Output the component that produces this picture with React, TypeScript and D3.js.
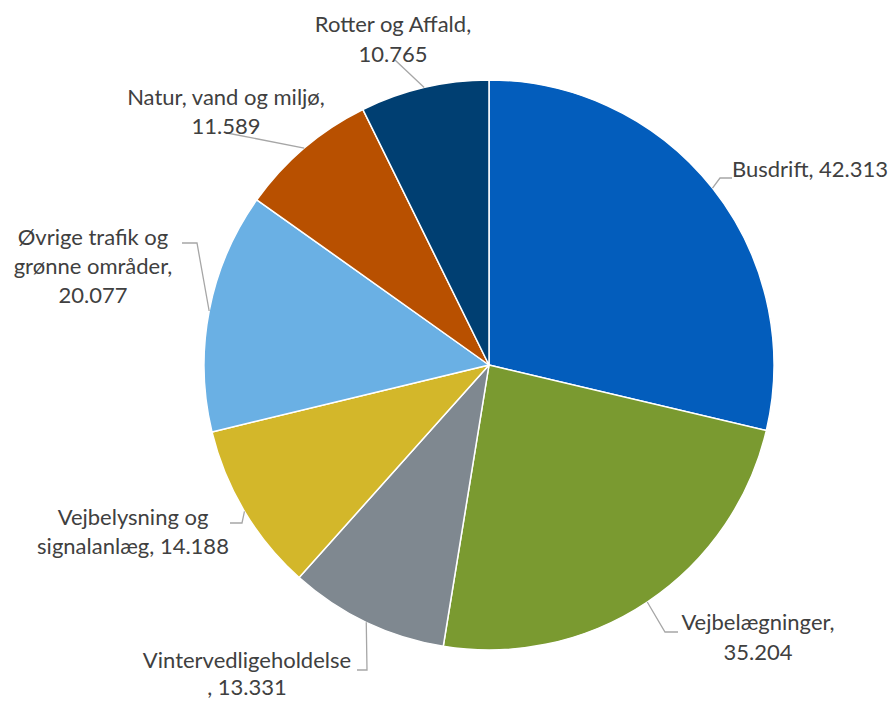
import React from "react";
import * as d3 from "d3";

const categories = [
  "Busdrift",
  "Vejbelægninger",
  "Vintervedligeholdelse",
  "Vejbelysning og signalanlæg",
  "Øvrige trafik og grønne områder",
  "Natur, vand og miljø",
  "Rotter og Affald",
];
const values = [42.313, 35.204, 13.331, 14.188, 20.077, 11.589, 10.765];
const colors = ["#035DBC", "#7A9A30", "#7F8890", "#D3B72A", "#6AB0E4", "#B85000", "#003F72"];

// Label text lines (as wrapped in the original)
const labelLines = [
  ["Busdrift, 42.313"],
  ["Vejbelægninger,", "35.204"],
  ["Vintervedligeholdelse", ", 13.331"],
  ["Vejbelysning og", "signalanlæg, 14.188"],
  ["Øvrige trafik og", "grønne områder,", "20.077"],
  ["Natur, vand og miljø,", "11.589"],
  ["Rotter og Affald,", "10.765"],
];

// Layout (label placement and leader bends), in page pixels
const labelLayout = [
  { x: 732, y: 177, anchor: "start", lh: 29.5, leader: [[720, 178], [732, 178]] },
  { x: 758, y: 630, anchor: "middle", lh: 29.5, leader: [[665, 632], [678, 632]] },
  { x: 247, y: 668, anchor: "middle", lh: 27, leader: [[367, 670], [357, 670]] },
  { x: 133, y: 525, anchor: "middle", lh: 29, leader: [[242, 523], [230, 523]] },
  { x: 93, y: 245, anchor: "middle", lh: 29, leader: [[197, 243], [182, 243]] },
  { x: 226, y: 105, anchor: "middle", lh: 29, leader: [[227, 133]] },
  { x: 393, y: 32, anchor: "middle", lh: 29.5, leader: [[395, 60]] },
];

const W = 890;
const H = 702;
const cx = 489;
const cy = 365;
const R = 285;

export default function App() {
  const data = categories.map((c, i) => ({ c, v: values[i], i }));
  const pie = d3
    .pie<any>()
    .sort(null)
    .value((d: any) => d.v)
    .startAngle(0)
    .endAngle(2 * Math.PI);
  const arcs = pie(data);
  const arc = d3.arc<any>().innerRadius(0).outerRadius(R);
  const line = d3.line();

  return (
    <svg
      width={W}
      height={H}
      style={{ position: "absolute", left: 0, top: 0, background: "#fff" }}
      fontFamily="Lato, 'Open Sans', sans-serif"
    >
      <g transform={`translate(${cx},${cy})`}>
        {arcs.map((a, i) => (
          <path key={i} d={arc(a) as string} fill={colors[i]} stroke="#fff" strokeWidth={1.5} strokeLinejoin="round" />
        ))}
      </g>
      {arcs.map((a, i) => {
        const mid = (a.startAngle + a.endAngle) / 2;
        const sx = cx + R * Math.sin(mid);
        const sy = cy - R * Math.cos(mid);
        const pts: [number, number][] = [[sx, sy], ...(labelLayout[i].leader as [number, number][])];
        return (
          <path key={"l" + i} d={line(pts) as string} fill="none" stroke="#A6A6A6" strokeWidth={1.3} />
        );
      })}
      {labelLines.map((lines, i) => {
        const L = labelLayout[i];
        return (
          <text
            key={"t" + i}
            x={L.x}
            y={L.y}
            textAnchor={L.anchor as any}
            fontSize={22}
            fill="#404040"
          >
            {lines.map((t, j) => (
              <tspan key={j} x={L.x} y={L.y + j * L.lh}>
                {t}
              </tspan>
            ))}
          </text>
        );
      })}
    </svg>
  );
}
